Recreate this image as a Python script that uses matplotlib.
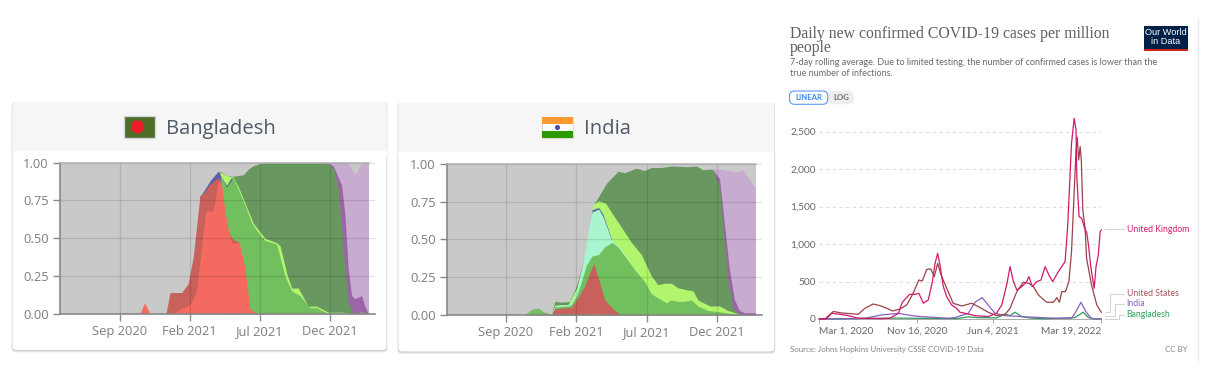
import matplotlib
matplotlib.use("Agg")
import matplotlib.pyplot as plt
from matplotlib.patches import FancyBboxPatch, Rectangle, Circle

W, H = 1212, 372
# ---------- chart data: area charts, x = months after Sep 2020 ----------
month_ticks = [0, 5, 10, 15]
month_labels = ["Sep 2020", "Feb 2021", "Jul 2021", "Dec 2021"]
share_ticks = [0, 0.25, 0.5, 0.75, 1.0]
share_labels = ["0.00", "0.25", "0.50", "0.75", "1.00"]

grey_x = [-4.25, 17.74]
grey_y = [1.0, 1.0]

bd_lpurple_x = [14.7, 14.87, 16.29, 16.77, 17.24, 17.74]
bd_lpurple_y = [0, 1.0, 1.0, 0.92, 1.0, 1.0]
bd_purple_x = [14.7, 14.75, 15.23, 15.82, 16.06, 16.29, 16.53, 16.77, 17.24, 17.48, 17.72]
bd_purple_y = [0, 1.0, 0.98, 0.85, 0.65, 0.30, 0.12, 0.10, 0.12, 0.05, 0]
bd_dgreen_x = [7.0, 7.03, 7.15, 7.62, 8.1, 8.81, 9.2, 9.52, 10.24, 14.63, 15.23, 15.58, 15.82, 16.06, 16.29, 16.65]
bd_dgreen_y = [0, 0.93, 0.945, 0.915, 0.91, 0.92, 0.96, 0.98, 1.0, 1.0, 0.97, 0.83, 0.57, 0.30, 0.08, 0]
bd_lime_x = [7.0, 7.15, 7.62, 8.1, 8.46, 8.93, 9.52, 10.36, 11.19, 11.43, 11.9, 12.26, 12.73, 13.44, 14.04, 14.87, 15.94, 16.3]
bd_lime_y = [0, 0.94, 0.915, 0.905, 0.84, 0.735, 0.60, 0.50, 0.47, 0.45, 0.27, 0.17, 0.17, 0.05, 0.05, 0.01, 0.01, 0]
bd_blue_x = [5.7, 5.72, 5.84, 6.44, 7.03, 7.27, 7.62, 7.98, 8.81, 9.52, 10.24, 10.5]
bd_blue_y = [0, 0.78, 0.79, 0.88, 0.945, 0.90, 0.85, 0.905, 0.74, 0.53, 0.50, 0]
bd_green_x = [7.03, 7.2, 7.62, 8.1, 8.93, 9.41, 10.24, 11.19, 11.78, 12.26, 12.85, 13.56, 14.04, 14.87, 16.89, 17.24, 17.6]
bd_green_y = [0, 0.91, 0.84, 0.90, 0.72, 0.60, 0.49, 0.46, 0.25, 0.15, 0.12, 0.04, 0.04, 0, 0, 0.015, 0]
bd_dred_x = [3.30, 3.59, 4.42, 4.89, 5.25, 5.72, 6.01, 6.44, 7.03, 7.2, 7.43, 7.74, 7.98, 8.53, 8.6]
bd_dred_y = [0, 0.14, 0.14, 0.20, 0.38, 0.78, 0.80, 0.86, 0.90, 0.88, 0.70, 0.55, 0.50, 0.47, 0]
bd_salmon_x = [1.45, 1.78, 2.16, 3.82, 4.3, 5.0, 5.49, 5.72, 6.13, 6.67, 7.03, 7.27, 7.62, 7.98, 8.53, 8.93, 9.29, 9.76, 10.2]
bd_salmon_y = [0, 0.073, 0, 0, 0.03, 0.06, 0.15, 0.35, 0.68, 0.68, 0.88, 0.85, 0.60, 0.47, 0.47, 0.30, 0.03, 0.005, 0]

in_lpurple_x = [14.6, 14.69, 15.4, 16.34, 16.82, 17.17, 17.71]
in_lpurple_y = [0, 0.97, 0.96, 0.945, 0.96, 0.91, 0.84]
in_purple_x = [14.6, 14.69, 15.17, 15.52, 15.87, 16.23, 16.58, 16.93, 17.71]
in_purple_y = [0, 0.96, 0.90, 0.60, 0.30, 0.10, 0.03, 0.015, 0.015]
in_dgreen_x = [1.3, 1.37, 1.84, 2.31, 2.67, 3.25, 3.49, 3.96, 4.55, 5.05, 5.73, 6.32, 7.15, 7.97, 8.44, 9.27, 9.86, 10.33,
               11.04, 11.75, 12.92, 13.51, 13.99, 14.58, 14.69, 15.17, 15.4, 15.75, 16.11, 16.46, 16.93, 17.2]
in_dgreen_y = [0, 0.0, 0.035, 0.045, 0.02, 0.005, 0.09, 0.085, 0.09, 0.20, 0.43, 0.74, 0.87, 0.95, 0.94, 0.97, 0.955, 0.975,
               0.975, 0.985, 0.98, 0.985, 0.96, 0.965, 0.96, 0.85, 0.60, 0.25, 0.05, 0.01, 0.005, 0]
in_lime_x = [3.25, 3.49, 4.43, 5.05, 5.73, 6.2, 6.6, 7.08, 7.5, 8.21, 8.92, 9.62, 10.33, 10.8, 11.27, 11.75, 12.22, 12.92, 13.28, 13.63, 14.46, 15.17, 15.75, 16.46, 16.7]
in_lime_y = [0, 0.065, 0.07, 0.18, 0.42, 0.73, 0.755, 0.74, 0.68, 0.58, 0.48, 0.40, 0.26, 0.20, 0.21, 0.21, 0.18, 0.165, 0.16, 0.10, 0.06, 0.06, 0.03, 0.01, 0]
in_blue_x = [6.0, 6.13, 6.6, 6.91, 7.5, 8.0]
in_blue_y = [0, 0.695, 0.71, 0.665, 0.505, 0]
in_mint_x = [3.25, 3.49, 4.43, 4.67, 5.05, 5.5, 5.85, 6.13, 6.6, 6.91, 7.5, 7.97, 8.44, 8.68, 8.8]
in_mint_y = [0.005, 0.06, 0.07, 0.08, 0.17, 0.35, 0.55, 0.68, 0.70, 0.65, 0.50, 0.46, 0.40, 0.36, 0]
in_green_x = [1.37, 1.84, 2.31, 2.67, 3.25, 3.49, 3.73, 4.43, 4.67, 5.05, 5.38, 5.73, 6.13, 6.6, 7.03, 7.55, 7.97, 8.68, 9.15, 9.86,
              10.33, 11.04, 11.39, 11.75, 12.22, 12.69, 13.16, 13.63, 14.34, 15.28, 15.99, 16.46]
in_green_y = [0, 0.035, 0.045, 0.02, 0, 0.055, 0.055, 0.06, 0.07, 0.13, 0.22, 0.33, 0.39, 0.40, 0.45, 0.48, 0.45, 0.36, 0.30, 0.22,
              0.14, 0.10, 0.08, 0.10, 0.09, 0.09, 0.10, 0.06, 0.03, 0.02, 0.01, 0]
in_dred_x = [3.25, 3.49, 3.96, 4.67, 5.05, 5.61, 5.97, 6.25, 6.56, 7.03, 7.62, 8.21]
in_dred_y = [0, 0.04, 0.045, 0.05, 0.10, 0.19, 0.28, 0.34, 0.25, 0.10, 0.04, 0]
in_salmon_x = [4.9, 5.6, 6.3, 7.0, 7.4]
in_salmon_y = [0, 0.006, 0.012, 0.006, 0]

# ---------- chart data: line chart, x = days after Mar 1, 2020 ----------
day_ticks = [0, 260, 460, 748]
day_labels = ["Mar 1, 2020", "Nov 16, 2020", "Jun 4, 2021", "Mar 19, 2022"]
case_ticks = [0, 500, 1000, 1500, 2000, 2500]
case_labels = ["0", "500", "1,000", "1,500", "2,000", "2,500"]

uk_x = [0, 19, 33, 55, 77, 103, 161, 187, 210, 220, 240, 256, 264, 276, 289, 300, 307, 314, 320, 329, 338, 351, 364, 373, 387,
        413, 448, 470, 484, 497, 506, 515, 524, 537, 550, 556, 565, 577, 588, 599, 609, 619, 634, 652, 659, 669, 676, 681, 683,
        689, 696, 705, 709, 714, 720, 729, 734, 740, 745, 748]
uk_y = [0, 5, 76, 63, 45, 10, 5, 10, 76, 223, 330, 330, 343, 210, 254, 498, 742, 876, 720, 432, 298, 187, 143, 90, 76,
        45, 32, 76, 187, 454, 698, 498, 387, 432, 498, 565, 432, 498, 520, 698, 587, 498, 631, 765, 1253, 2343, 2676, 2520, 1900,
        1366, 1344, 1188, 1164, 987, 700, 409, 698, 853, 1164, 1187]
us_x = [0, 15, 37, 59, 103, 121, 143, 161, 179, 194, 214, 232, 249, 264, 273, 285, 296, 305, 314, 323, 338, 355, 378, 404, 422,
        448, 470, 493, 506, 524, 541, 556, 568, 581, 603, 621, 630, 637, 643, 653, 662, 669, 672, 681, 684, 688, 692, 695, 699, 705,
        709, 722, 736, 748]
us_y = [0, 0, 100, 81, 63, 143, 200, 178, 143, 107, 134, 187, 343, 520, 507, 662, 667, 565, 742, 587, 409, 210, 174, 210, 165,
        90, 45, 63, 143, 365, 489, 476, 432, 321, 223, 223, 285, 223, 365, 365, 498, 898, 1233, 2254, 2423, 2121, 2299, 2121, 1455, 1211,
        809, 454, 187, 90]
india_x = [0, 73, 121, 165, 210, 245, 271, 342, 360, 395, 413, 432, 448, 466, 493, 537, 625, 669, 678, 694, 707, 722, 748]
india_y = [0, 3, 10, 54, 76, 45, 32, 10, 19, 76, 223, 285, 187, 76, 45, 32, 10, 10, 76, 223, 99, 5, 2]
bangladesh_x = [0, 161, 205, 249, 294, 364, 395, 422, 470, 493, 506, 519, 537, 563, 603, 678, 700, 714, 731, 748]
bangladesh_y = [0, 10, 12, 10, 8, 5, 28, 18, 15, 63, 45, 90, 32, 10, 3, 19, 90, 19, 2, 1]

# ---------- styles ----------
C = dict(grey="#c9c9c9", lpurple="#c8acd0", purple="#9a66a5", dgreen="#68985f", lime="#b0f56c", blue="#5b63a8",
         mint="#a8f5d0", green="#72bf60", dred="#c8605c", salmon="#f56a60")
SANS = "Open Sans"
LATO = "Lato"

fig = plt.figure(figsize=(W / 100, H / 100), dpi=100, facecolor="white")


def box(l, t, r, b):
    return [l / W, 1 - b / H, (r - l) / W, (b - t) / H]


bg = fig.add_axes([0, 0, 1, 1], zorder=0)
bg.set_xlim(0, W)
bg.set_ylim(H, 0)
bg.axis("off")


def card(l, t, r, b, head):
    for off, col in ((2.5, "#ececec"), (1.5, "#dcdcdc"), (0.6, "#c8c8c8")):
        bg.add_patch(FancyBboxPatch((l - off * .4, t), r - l + off * .8, b - t + off, boxstyle="round,pad=0,rounding_size=4",
                                    fc=col, ec="none"))
    bg.add_patch(FancyBboxPatch((l, t), r - l, b - t, boxstyle="round,pad=0,rounding_size=4", fc="white", ec="none"))
    bg.add_patch(FancyBboxPatch((l, t), r - l, head - t + 5, boxstyle="round,pad=0,rounding_size=4", fc="#f6f6f6", ec="none"))
    bg.add_patch(Rectangle((l, head), r - l, 6, fc="white", ec="none"))


card(12.5, 102, 386.5, 350, 150.7)
card(398.3, 103, 774.3, 351.5, 151.7)

# flags
bg.add_patch(Rectangle((123.5, 116), 31, 21.5, fc="#4f6b28", ec="#cfd3d6", lw=1))
bg.add_patch(Circle((137.5, 126.8), 6.5, fc="#ed1c24", ec="none"))
bg.add_patch(Rectangle((542, 117), 31, 21, fc="white", ec="#dcdcdc", lw=0.8))
bg.add_patch(Rectangle((542, 117), 31, 7, fc="#ff9933", ec="none"))
bg.add_patch(Rectangle((542, 131), 31, 7, fc="#2f9900", ec="none"))
bg.add_patch(Circle((557.5, 127.5), 2.6, fc="#4a4fa8", ec="none"))

bg.text(165.5, 129, "Bangladesh", family=SANS, fontsize=14.6, color="#4f5b66", va="center", ha="left")
bg.text(584, 129.5, "India", family=SANS, fontsize=14.6, color="#4f5b66", va="center", ha="left")


def area_chart(rect, xlim, layers):
    ax = fig.add_axes(rect, zorder=2)
    ax.patch.set_alpha(0)
    for x, y, col in layers:
        ax.fill_between(x, y, 0, color=col, lw=0, zorder=2)
    ax.set_xlim(*xlim)
    ax.set_ylim(0, 1)
    ax.set_xticks(month_ticks, month_labels)
    ax.set_yticks(share_ticks, share_labels)
    ax.tick_params(axis="both", colors="#8a8a8a", labelcolor="#7d7d7d", labelsize=9.3, length=5, width=1, pad=3)
    for lab in ax.get_xticklabels() + ax.get_yticklabels():
        lab.set_family(SANS)
    ax.grid(True, color="black", alpha=0.11, lw=1, zorder=3)
    ax.set_axisbelow(False)
    for s in ("top", "right"):
        ax.spines[s].set_visible(False)
    for s in ("left", "bottom"):
        ax.spines[s].set_color("#8a8a8a")
        ax.spines[s].set_linewidth(1.2)
    ax.plot([xlim[0], 17.74], [1, 1], color="#b0b0b0", lw=1.1, zorder=4, clip_on=False)
    return ax


bd_layers = [(grey_x, grey_y, C["grey"]), (bd_lpurple_x, bd_lpurple_y, C["lpurple"]), (bd_purple_x, bd_purple_y, C["purple"]),
             (bd_dgreen_x, bd_dgreen_y, C["dgreen"]), (bd_lime_x, bd_lime_y, C["lime"]), (bd_blue_x, bd_blue_y, C["blue"]),
             (bd_green_x, bd_green_y, C["green"]), (bd_dred_x, bd_dred_y, C["dred"]), (bd_salmon_x, bd_salmon_y, C["salmon"])]
in_layers = [(grey_x, grey_y, C["grey"]), (in_lpurple_x, in_lpurple_y, C["lpurple"]), (in_purple_x, in_purple_y, C["purple"]),
             (in_dgreen_x, in_dgreen_y, C["dgreen"]), (in_lime_x, in_lime_y, C["lime"]), (in_blue_x, in_blue_y, C["blue"]),
             (in_mint_x, in_mint_y, C["mint"]), (in_green_x, in_green_y, C["green"]), (in_dred_x, in_dred_y, C["dred"]),
             (in_salmon_x, in_salmon_y, C["salmon"])]

area_chart(box(60, 162.7, 375, 313.7), (-4.25, 18.2), bd_layers)
area_chart(box(446.7, 163.7, 762.3, 315), (-4.17, 18.2), in_layers)

# ---------- right-hand panel ----------
bg.plot([1198, 1198], [18, 360], color="#ececec", lw=1)
bg.text(790, 34, "Daily new confirmed COVID-19 cases per million", family="Liberation Serif", fontsize=11.3, color="#606060",
        va="center", ha="left")
bg.text(790, 48, "people", family="Liberation Serif", fontsize=11.3, color="#606060", va="center", ha="left")
bg.text(790, 62.7, "7-day rolling average. Due to limited testing, the number of confirmed cases is lower than the",
        family=LATO, fontsize=6.5, color="#6a6a6a", va="center", ha="left")
bg.text(790, 73.7, "true number of infections.", family=LATO, fontsize=6.5, color="#6a6a6a", va="center", ha="left")

bg.add_patch(FancyBboxPatch((827, 91), 27, 13.3, boxstyle="round,pad=0,rounding_size=6", fc="#eeeeee", ec="none"))
bg.add_patch(FancyBboxPatch((789.5, 91), 38.2, 13.3, boxstyle="round,pad=0,rounding_size=5", fc="white", ec="#5b9bf0", lw=0.8))
bg.text(808.5, 97.7, "LINEAR", family=LATO, fontsize=5.6, color="#3f86e8", va="center", ha="center", weight="bold")
bg.text(841, 97.7, "LOG", family=LATO, fontsize=5.6, color="#6e6e6e", va="center", ha="center", weight="bold")

bg.add_patch(Rectangle((1144, 26), 44, 24.7, fc="#002147", ec="none"))
bg.add_patch(Rectangle((1144, 48.5), 44, 2.2, fc="#ce261e", ec="none"))
bg.text(1166, 32.5, "Our World", family="Liberation Sans", fontsize=6.6, color="white", va="center", ha="center")
bg.text(1166, 42, "in Data", family="Liberation Sans", fontsize=6.6, color="white", va="center", ha="center")

bg.text(790, 349.3, "Source: Johns Hopkins University CSSE COVID-19 Data", family=LATO, fontsize=5.7, color="#858585",
        va="center", ha="left")
bg.text(1187.7, 349.3, "CC BY", family=LATO, fontsize=5.7, color="#858585", va="center", ha="right")

ax3 = fig.add_axes(box(819.3, 116, 1101.3, 319), zorder=2)
ax3.patch.set_alpha(0)
COL_UK, COL_US, COL_IN, COL_BD = "#d2196f", "#9a4347", "#8a5fbf", "#2e9e5b"
ax3.plot(bangladesh_x, bangladesh_y, color=COL_BD, lw=0.9, clip_on=False, zorder=3)
ax3.plot(india_x, india_y, color=COL_IN, lw=0.9, clip_on=False, zorder=4)
ax3.plot(us_x, us_y, color=COL_US, lw=0.9, clip_on=False, zorder=5)
ax3.plot(uk_x, uk_y, color=COL_UK, lw=0.9, clip_on=False, zorder=6)
ax3.set_xlim(0, 748)
ax3.set_ylim(0, 2706.7)
ax3.set_xticks(day_ticks, day_labels)
ax3.set_yticks(case_ticks, case_labels)
ax3.tick_params(axis="y", length=0, pad=2.6, labelsize=7.3, labelcolor="#666666")
ax3.tick_params(axis="x", length=3, width=0.6, color="#999999", pad=2.5, labelsize=7.2, labelcolor="#666666")
for lab in ax3.get_xticklabels() + ax3.get_yticklabels():
    lab.set_family(LATO)
xl = ax3.get_xticklabels()
xl[0].set_ha("left")
xl[-1].set_ha("right")
ax3.grid(axis="y", color="#dddddd", lw=0.8, ls=(0, (3, 3)), zorder=1)
ax3.set_axisbelow(True)
for s in ("top", "right", "left"):
    ax3.spines[s].set_visible(False)
ax3.spines["bottom"].set_color("#aaaaaa")
ax3.spines["bottom"].set_linewidth(0.7)

# end-of-line labels and connectors
for name, col, ly, sy, ex in (("United Kingdom", COL_UK, 229.3, 229.3, 1124),
                              ("United States", "#a2545a", 294, 312, 1109.5),
                              ("India", COL_IN, 304, 316, 1114.5),
                              ("Bangladesh", COL_BD, 314.5, 319, 1118.5)):
    bg.plot([1104.5, ex, ex, 1124], [sy, sy, ly, ly], color="#d5d5d5", lw=0.8)
    bg.text(1126.7, ly, name, family=LATO, fontsize=6.2, color=col, va="center", ha="left")

fig.savefig("out.png", dpi=100, facecolor="white")
